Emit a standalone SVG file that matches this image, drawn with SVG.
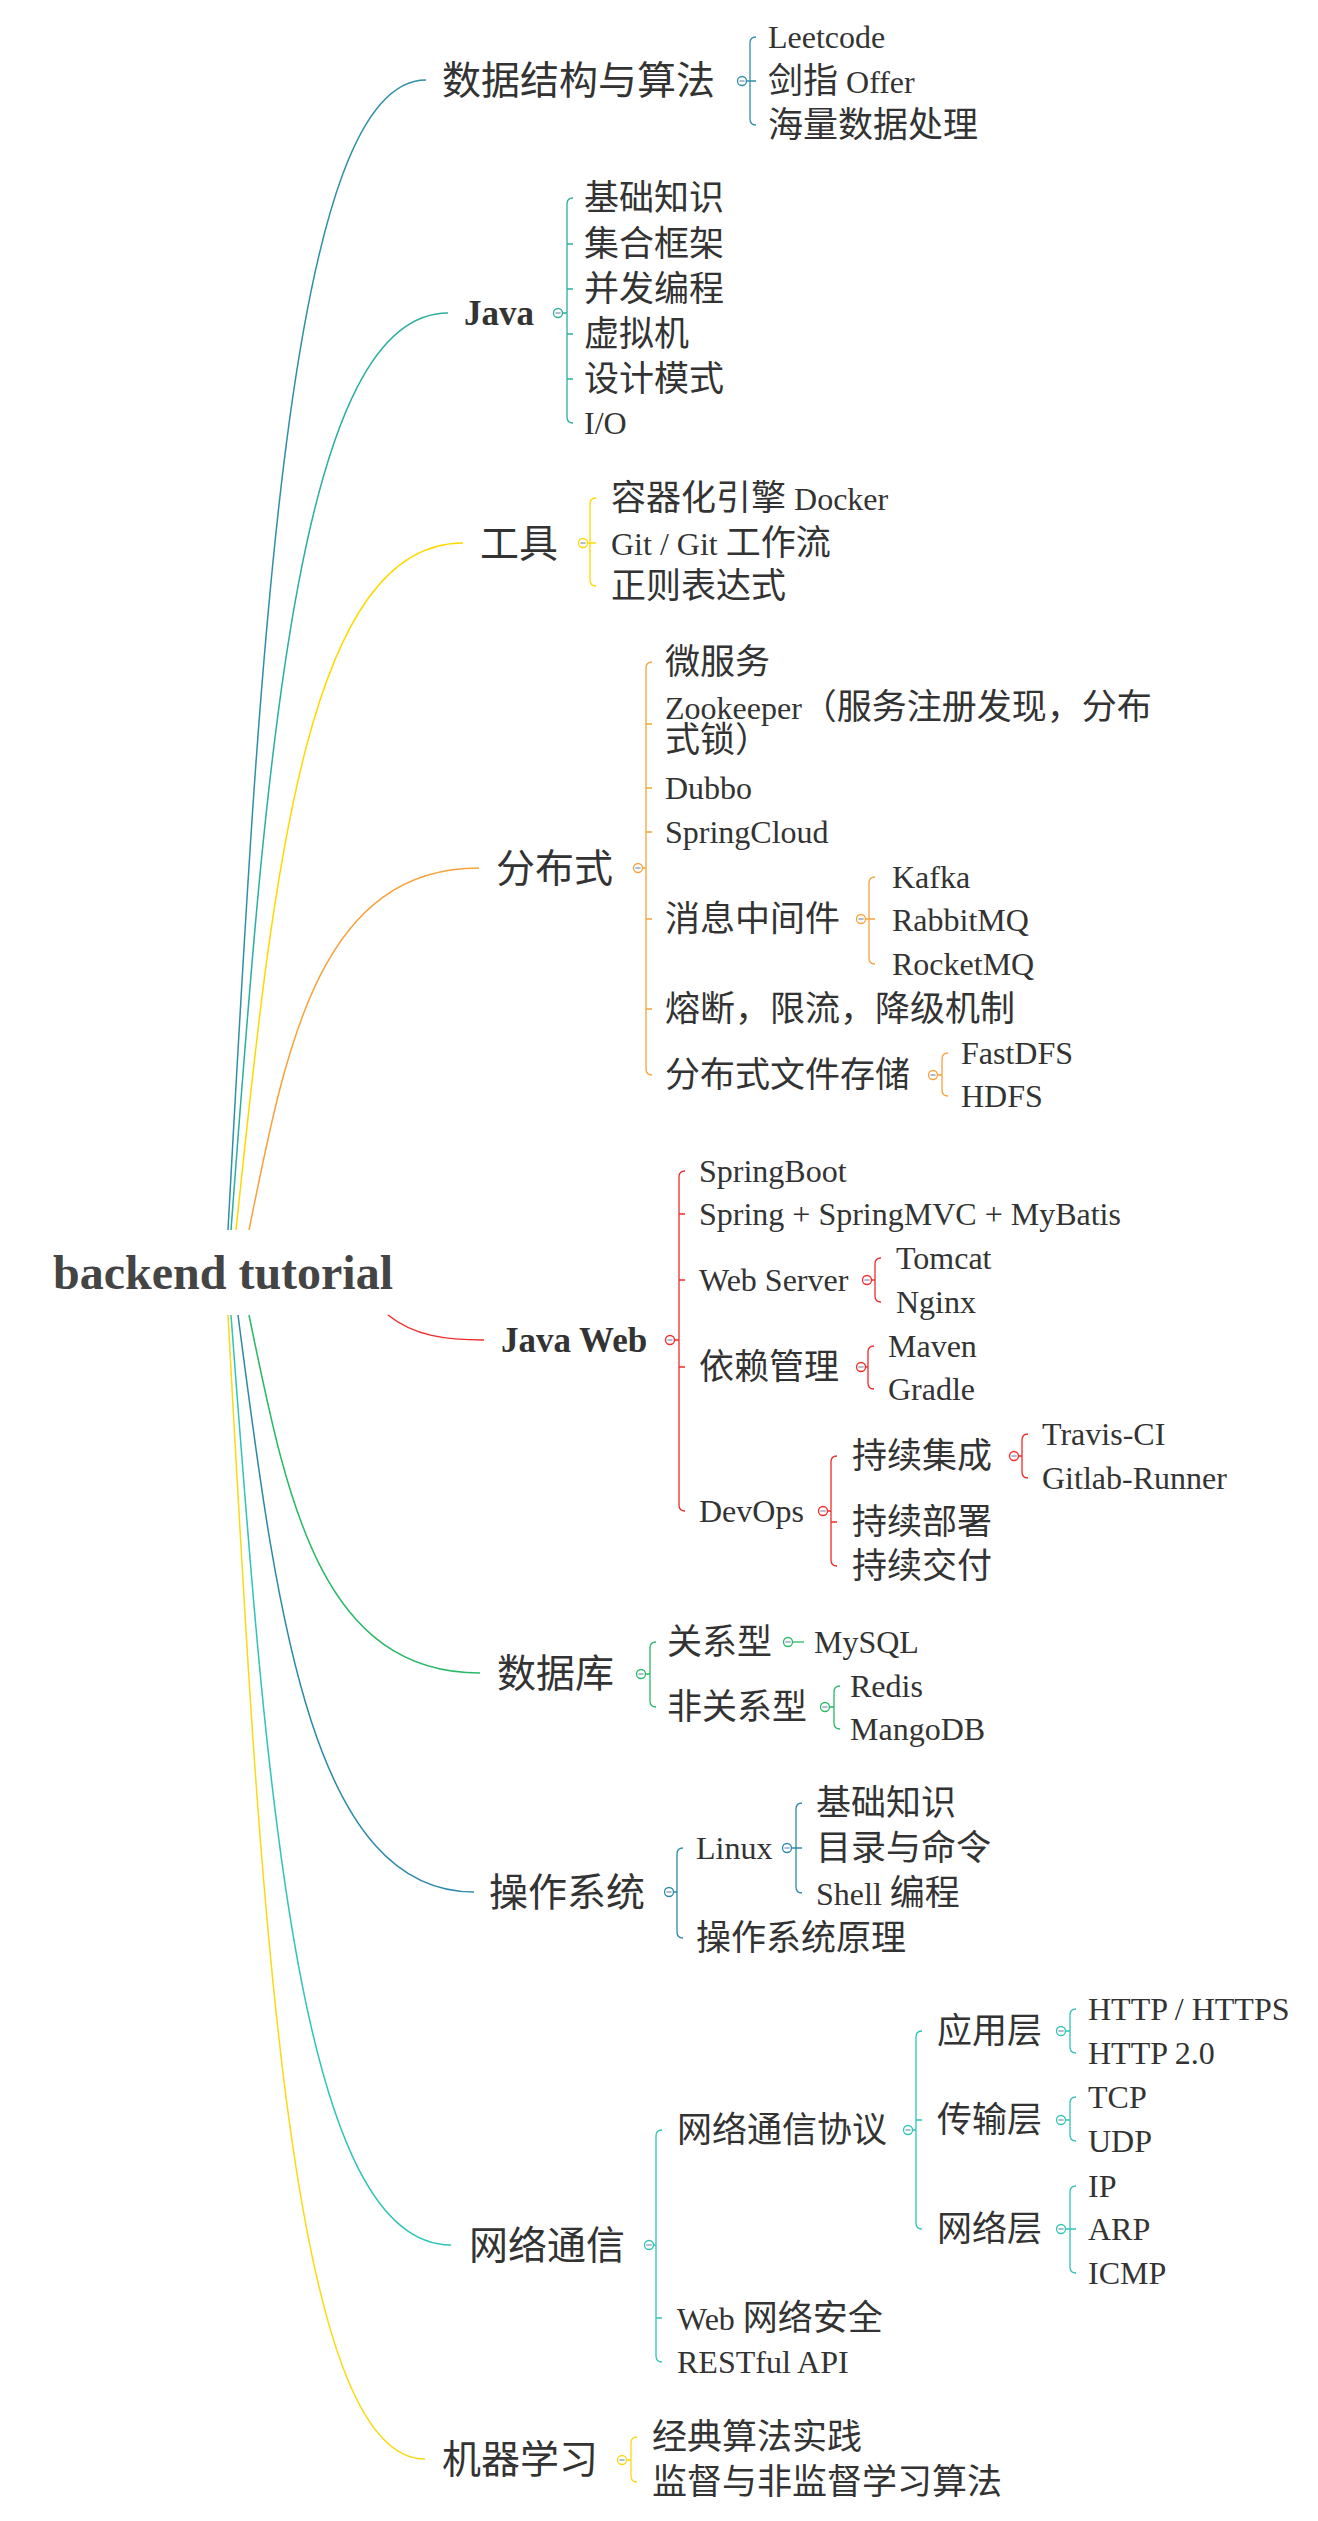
<svg xmlns="http://www.w3.org/2000/svg" width="1318" height="2521" viewBox="0 0 1318 2521">
<style>
text { font-family: 'Liberation Serif', 'Noto Sans CJK SC', serif; fill: #333; }
.root { font-size: 48px; font-weight: bold; fill: #444; }
.m { font-size: 39px; }
.mb { font-size: 35px; font-weight: bold; }
.s { font-size: 35px; }
.l { font-size: 32px; }
.ln { fill: none; stroke-width: 1.5; }
.br { fill: none; stroke-width: 1.3; }
.tg { fill: #fff; stroke-width: 1.3; }
.mn { stroke: #7d8fb3; stroke-width: 1.2; }
.c1 { stroke: #2f8fa8; }
.c2 { stroke: #2aae9f; }
.c3 { stroke: #ffd800; }
.c4 { stroke: #f7a23b; }
.c5 { stroke: #f22a2a; }
.c6 { stroke: #29b866; }
.c7 { stroke: #2c89a8; }
.c8 { stroke: #2ec4b6; }
.c9 { stroke: #fbd915; }
</style>
<defs>
<path id="minus" d="M-2.6,0 H2.6"/>
</defs>
<rect width="1318" height="2521" fill="#fff"/>

<g id="connectors">
  <!-- root curves -->
  <path class="ln c1" d="M228,1230 C259.7,655 287.4,80 426,80"/>
  <path class="ln c2" d="M231,1230 C265.7,771.5 296.1,313 448,313"/>
  <path class="ln c3" d="M236,1230 C272.3,886.5 304.1,543 463,543"/>
  <path class="ln c4" d="M249,1230 C285.8,1049 318,868 479,868"/>
  <path class="ln c5" d="M388,1315 C414,1336 446,1340 484,1340"/>
  <path class="ln c6" d="M249,1315 C286,1494 318.3,1673 480,1673"/>
  <path class="ln c7" d="M238,1315 C275.8,1603.5 308.8,1892 474,1892"/>
  <path class="ln c8" d="M231,1315 C266.2,1780 297,2245 451,2245"/>
  <path class="ln c9" d="M228,1315 C259.5,1887 287.1,2459 425,2459"/>

  <!-- B1 -->
  <path class="br c1" d="M756,37 Q750,37 750,43 V119 Q750,125 756,125 M746.5,81 H756"/>
  <circle class="tg c1" cx="742" cy="81" r="4.5"/><use href="#minus" class="mn" x="742" y="81"/>
  <!-- B2 -->
  <path class="br c2" d="M573,198 Q567,198 567,204 V417 Q567,423 573,423 M567,244 H573 M567,289 H573 M567,334 H573 M567,379 H573 M562.5,313 H567"/>
  <circle class="tg c2" cx="558" cy="313" r="4.5"/><use href="#minus" class="mn" x="558" y="313"/>
  <!-- B3 -->
  <path class="br c3" d="M596,498 Q590,498 590,504 V580 Q590,586 596,586 M587.5,543 H596"/>
  <circle class="tg c3" cx="583" cy="543" r="4.5"/><use href="#minus" class="mn" x="583" y="543"/>
  <!-- B4 -->
  <path class="br c4" d="M652,662 Q646,662 646,668 V1069 Q646,1075 652,1075 M646,724 H652 M646,788 H652 M646,832 H652 M646,919 H652 M646,1009 H652 M642.5,868 H646"/>
  <circle class="tg c4" cx="638" cy="868" r="4.5"/><use href="#minus" class="mn" x="638" y="868"/>
  <path class="br c4" d="M875,877 Q869,877 869,883 V958 Q869,964 875,964 M865.5,919 H875"/>
  <circle class="tg c4" cx="861" cy="919" r="4.5"/><use href="#minus" class="mn" x="861" y="919"/>
  <path class="br c4" d="M948,1053 Q942,1053 942,1059 V1090 Q942,1096 948,1096 M937.5,1075 H942"/>
  <circle class="tg c4" cx="933" cy="1075" r="4.5"/><use href="#minus" class="mn" x="933" y="1075"/>
  <!-- B5 -->
  <path class="br c5" d="M685,1171 Q679,1171 679,1177 V1505 Q679,1511 685,1511 M679,1214 H685 M679,1280 H685 M679,1367 H685 M674.5,1340 H679"/>
  <circle class="tg c5" cx="670" cy="1340" r="4.5"/><use href="#minus" class="mn" x="670" y="1340"/>
  <path class="br c5" d="M881,1258 Q875,1258 875,1264 V1296 Q875,1302 881,1302 M871.5,1280 H875"/>
  <circle class="tg c5" cx="867" cy="1280" r="4.5"/><use href="#minus" class="mn" x="867" y="1280"/>
  <path class="br c5" d="M874,1346 Q868,1346 868,1352 V1383 Q868,1389 874,1389 M865.5,1367 H868"/>
  <circle class="tg c5" cx="861" cy="1367" r="4.5"/><use href="#minus" class="mn" x="861" y="1367"/>
  <path class="br c5" d="M837,1456 Q831,1456 831,1462 V1560 Q831,1566 837,1566 M831,1522 H837 M827.5,1511 H831"/>
  <circle class="tg c5" cx="823" cy="1511" r="4.5"/><use href="#minus" class="mn" x="823" y="1511"/>
  <path class="br c5" d="M1028,1434 Q1022,1434 1022,1440 V1472 Q1022,1478 1028,1478 M1018.5,1456 H1022"/>
  <circle class="tg c5" cx="1014" cy="1456" r="4.5"/><use href="#minus" class="mn" x="1014" y="1456"/>
  <!-- B6 -->
  <path class="br c6" d="M656,1642 Q650,1642 650,1648 V1701 Q650,1707 656,1707 M645.5,1674 H650"/>
  <circle class="tg c6" cx="641" cy="1674" r="4.5"/><use href="#minus" class="mn" x="641" y="1674"/>
  <path class="br c6" d="M792.5,1642 H804"/>
  <circle class="tg c6" cx="788" cy="1642" r="4.5"/><use href="#minus" class="mn" x="788" y="1642"/>
  <path class="br c6" d="M840,1686 Q834,1686 834,1692 V1723 Q834,1729 840,1729 M829.5,1707 H834"/>
  <circle class="tg c6" cx="825" cy="1707" r="4.5"/><use href="#minus" class="mn" x="825" y="1707"/>
  <!-- B7 -->
  <path class="br c7" d="M683,1848 Q677,1848 677,1854 V1932 Q677,1938 683,1938 M673.5,1892 H677"/>
  <circle class="tg c7" cx="669" cy="1892" r="4.5"/><use href="#minus" class="mn" x="669" y="1892"/>
  <path class="br c7" d="M802,1803 Q796,1803 796,1809 V1887 Q796,1893 802,1893 M791.5,1848 H802"/>
  <circle class="tg c7" cx="787" cy="1848" r="4.5"/><use href="#minus" class="mn" x="787" y="1848"/>
  <!-- B8 -->
  <path class="br c8" d="M662,2130 Q656,2130 656,2136 V2356 Q656,2362 662,2362 M656,2318 H662 M653.5,2245 H656"/>
  <circle class="tg c8" cx="649" cy="2245" r="4.5"/><use href="#minus" class="mn" x="649" y="2245"/>
  <path class="br c8" d="M922,2031 Q916,2031 916,2037 V2223 Q916,2229 922,2229 M916,2120 H922 M912.5,2130 H916"/>
  <circle class="tg c8" cx="908" cy="2130" r="4.5"/><use href="#minus" class="mn" x="908" y="2130"/>
  <path class="br c8" d="M1076,2009 Q1070,2009 1070,2015 V2047 Q1070,2053 1076,2053 M1065.5,2031 H1070"/>
  <circle class="tg c8" cx="1061" cy="2031" r="4.5"/><use href="#minus" class="mn" x="1061" y="2031"/>
  <path class="br c8" d="M1076,2097 Q1070,2097 1070,2103 V2135 Q1070,2141 1076,2141 M1065.5,2120 H1070"/>
  <circle class="tg c8" cx="1061" cy="2120" r="4.5"/><use href="#minus" class="mn" x="1061" y="2120"/>
  <path class="br c8" d="M1076,2186 Q1070,2186 1070,2192 V2267 Q1070,2273 1076,2273 M1065.5,2229 H1076"/>
  <circle class="tg c8" cx="1061" cy="2229" r="4.5"/><use href="#minus" class="mn" x="1061" y="2229"/>
  <!-- B9 -->
  <path class="br c9" d="M637,2437 Q631,2437 631,2443 V2476 Q631,2482 637,2482 M626.5,2460 H631"/>
  <circle class="tg c9" cx="622" cy="2460" r="4.5"/><use href="#minus" class="mn" x="622" y="2460"/>
</g>

<g id="root"><text class="root" x="53" y="1289">backend tutorial</text></g>

<g id="n-dsa"><text class="m" x="442" y="94">数据结构与算法</text></g>
<g id="n-leetcode"><text class="l" x="768" y="48">Leetcode</text></g>
<g id="n-offer"><text class="s" x="768" y="93">剑指<tspan class="l"> Offer</tspan></text></g>
<g id="n-bigdata"><text class="s" x="768" y="137">海量数据处理</text></g>

<g id="n-java"><text class="mb" x="464" y="325">Java</text></g>
<g id="n-java-basic"><text class="s" x="584" y="210">基础知识</text></g>
<g id="n-java-coll"><text class="s" x="584" y="256">集合框架</text></g>
<g id="n-java-conc"><text class="s" x="584" y="301">并发编程</text></g>
<g id="n-java-jvm"><text class="s" x="584" y="346">虚拟机</text></g>
<g id="n-java-dp"><text class="s" x="584" y="391">设计模式</text></g>
<g id="n-java-io"><text class="l" x="584" y="434">I/O</text></g>

<g id="n-tools"><text class="m" x="480" y="557">工具</text></g>
<g id="n-docker"><text class="s" x="611" y="510">容器化引擎<tspan class="l"> Docker</tspan></text></g>
<g id="n-git"><text class="s" x="611" y="555"><tspan class="l">Git / Git </tspan>工作流</text></g>
<g id="n-regex"><text class="s" x="611" y="598">正则表达式</text></g>

<g id="n-dist"><text class="m" x="496" y="882">分布式</text></g>
<g id="n-micro"><text class="s" x="665" y="674">微服务</text></g>
<g id="n-zk"><text class="s" x="665" y="719"><tspan class="l">Zookeeper</tspan>（服务注册发现，分布</text><text class="s" x="665" y="752">式锁）</text></g>
<g id="n-dubbo"><text class="l" x="665" y="799">Dubbo</text></g>
<g id="n-sc"><text class="l" x="665" y="843">SpringCloud</text></g>
<g id="n-mq"><text class="s" x="665" y="931">消息中间件</text></g>
<g id="n-kafka"><text class="l" x="892" y="888">Kafka</text></g>
<g id="n-rabbit"><text class="l" x="892" y="931">RabbitMQ</text></g>
<g id="n-rocket"><text class="l" x="892" y="975">RocketMQ</text></g>
<g id="n-fuse"><text class="s" x="665" y="1021">熔断，限流，降级机制</text></g>
<g id="n-dfs"><text class="s" x="665" y="1087">分布式文件存储</text></g>
<g id="n-fastdfs"><text class="l" x="961" y="1064">FastDFS</text></g>
<g id="n-hdfs"><text class="l" x="961" y="1107">HDFS</text></g>

<g id="n-javaweb"><text class="mb" x="501" y="1352">Java Web</text></g>
<g id="n-boot"><text class="l" x="699" y="1182">SpringBoot</text></g>
<g id="n-ssm"><text class="l" x="699" y="1225">Spring + SpringMVC + MyBatis</text></g>
<g id="n-websrv"><text class="l" x="699" y="1291">Web Server</text></g>
<g id="n-tomcat"><text class="l" x="896" y="1269">Tomcat</text></g>
<g id="n-nginx"><text class="l" x="896" y="1313">Nginx</text></g>
<g id="n-dep"><text class="s" x="699" y="1379">依赖管理</text></g>
<g id="n-maven"><text class="l" x="888" y="1357">Maven</text></g>
<g id="n-gradle"><text class="l" x="888" y="1400">Gradle</text></g>
<g id="n-devops"><text class="l" x="699" y="1522">DevOps</text></g>
<g id="n-ci"><text class="s" x="852" y="1468">持续集成</text></g>
<g id="n-travis"><text class="l" x="1042" y="1445">Travis-CI</text></g>
<g id="n-gitlab"><text class="l" x="1042" y="1489">Gitlab-Runner</text></g>
<g id="n-cdep"><text class="s" x="852" y="1534">持续部署</text></g>
<g id="n-cdel"><text class="s" x="852" y="1578">持续交付</text></g>

<g id="n-db"><text class="m" x="497" y="1687">数据库</text></g>
<g id="n-rel"><text class="s" x="667" y="1654">关系型</text></g>
<g id="n-mysql"><text class="l" x="814" y="1653">MySQL</text></g>
<g id="n-nosql"><text class="s" x="667" y="1719">非关系型</text></g>
<g id="n-redis"><text class="l" x="850" y="1697">Redis</text></g>
<g id="n-mongo"><text class="l" x="850" y="1740">MangoDB</text></g>

<g id="n-os"><text class="m" x="489" y="1906">操作系统</text></g>
<g id="n-linux"><text class="l" x="696" y="1859">Linux</text></g>
<g id="n-lx-basic"><text class="s" x="816" y="1815">基础知识</text></g>
<g id="n-lx-cmd"><text class="s" x="816" y="1860">目录与命令</text></g>
<g id="n-lx-shell"><text class="s" x="816" y="1905"><tspan class="l">Shell </tspan>编程</text></g>
<g id="n-os-theory"><text class="s" x="696" y="1950">操作系统原理</text></g>

<g id="n-net"><text class="m" x="469" y="2259">网络通信</text></g>
<g id="n-proto"><text class="s" x="677" y="2142">网络通信协议</text></g>
<g id="n-app"><text class="s" x="937" y="2043">应用层</text></g>
<g id="n-https"><text class="l" x="1088" y="2020">HTTP / HTTPS</text></g>
<g id="n-http2"><text class="l" x="1088" y="2064">HTTP 2.0</text></g>
<g id="n-trans"><text class="s" x="937" y="2132">传输层</text></g>
<g id="n-tcp"><text class="l" x="1088" y="2108">TCP</text></g>
<g id="n-udp"><text class="l" x="1088" y="2152">UDP</text></g>
<g id="n-netl"><text class="s" x="937" y="2241">网络层</text></g>
<g id="n-ip"><text class="l" x="1088" y="2197">IP</text></g>
<g id="n-arp"><text class="l" x="1088" y="2240">ARP</text></g>
<g id="n-icmp"><text class="l" x="1088" y="2284">ICMP</text></g>
<g id="n-websec"><text class="s" x="677" y="2330"><tspan class="l">Web </tspan>网络安全</text></g>
<g id="n-rest"><text class="l" x="677" y="2373">RESTful API</text></g>

<g id="n-ml"><text class="m" x="442" y="2473">机器学习</text></g>
<g id="n-ml-algo"><text class="s" x="652" y="2449">经典算法实践</text></g>
<g id="n-ml-sup"><text class="s" x="652" y="2494">监督与非监督学习算法</text></g>
</svg>
